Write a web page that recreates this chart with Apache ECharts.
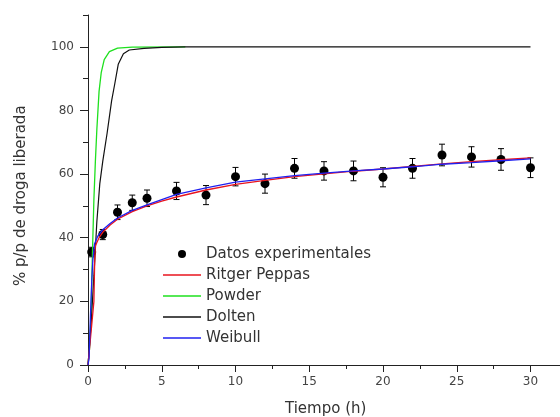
<!DOCTYPE html>
<html>
<head>
<meta charset="utf-8">
<script src="https://cdn.jsdelivr.net/npm/echarts@6/dist/echarts.min.js"></script>
<style>
html,body{margin:0;padding:0;background:#fff;}
#chart{width:560px;height:417px;}
</style>
</head>
<body>
<div id="chart"></div>
<script>
// ---- data ----
const times    = [0.25, 1, 2, 3, 4, 6, 8, 10, 12, 14, 16, 18, 20, 22, 24, 26, 28, 30];
const released = [35.5, 41, 48, 51, 52.4, 54.7, 53.4, 59.2, 57, 61.8, 61, 61, 59, 61.8, 66, 65.4, 64.6, 62];
const errors   = [1.5, 1.6, 2.3, 2.4, 2.6, 2.7, 3.0, 2.9, 3.0, 3.1, 2.9, 3.1, 3.0, 3.1, 3.4, 3.2, 3.4, 3.1];

const ritgerPeppas = [[0,0],[0.4,20],[0.45,32],[0.5,37.5],[0.75,40],[1,41.7],[1.5,44],[2,45.8],[3,48.2],[4,50],[5,51.5],[6,52.8],[8,55],[10,56.8],[12,58],[14,59.2],[16,60.1],[18,60.9],[20,61.6],[22,62.4],[24,63.2],[26,63.9],[28,64.5],[30,65.1]];
const powder = [[0,0],[0.1,5],[0.2,15],[0.3,35],[0.4,52],[0.5,64],[0.6,74],[0.75,86],[0.9,92],[1.1,96],[1.45,98.5],[2,99.6],[3,99.9],[6.6,100]];
const dolten = [[0,0],[0.2,12],[0.4,28],[0.6,45],[0.8,57],[1.0,64],[1.3,73],[1.6,83],[1.8,88],[2.05,94.5],[2.4,97.8],[2.8,99],[3.8,99.5],[5,99.8],[6.6,100],[30,100]];
const weibull = [[0,0],[0.07,2],[0.17,16],[0.26,27],[0.33,33],[0.44,38],[0.66,40.5],[1,42.5],[1.5,44.5],[2,46.2],[3,48.6],[4,50.3],[5,52],[6,53.6],[8,55.7],[10,57.5],[12,58.5],[14,59.5],[16,60.3],[18,61],[20,61.6],[22,62.3],[24,63.1],[26,63.6],[28,64.2],[30,64.8]];

const xMajor = [0, 5, 10, 15, 20, 25, 30];
const xMinor = [2.5, 7.5, 12.5, 17.5, 22.5, 27.5];
const yMajor = [0, 20, 40, 60, 80, 100];
const yMinor = [10, 30, 50, 70, 90, 110];

const names = ['Datos experimentales', 'Ritger Peppas', 'Powder', 'Dolten', 'Weibull'];

// ---- chart ----
const FONT = 'DejaVu Sans';
const axisColor = '#222';
const points = times.map((t, i) => [t, released[i]]);
const bars = times.map((t, i) => [t, released[i], errors[i]]);
const lineIcon = 'path://M0,0H38V1.3H0Z';

const chart = echarts.init(document.getElementById('chart'), null, {renderer: 'canvas'});

const baseX = {type: 'value', min: 0, max: 32, splitLine: {show: false}, position: 'bottom'};
const baseY = {type: 'value', min: 0, max: 110, splitLine: {show: false}, position: 'left'};

chart.setOption({
  animation: false,
  backgroundColor: '#fff',
  grid: {left: 88, right: 0, top: 15, bottom: 52, containLabel: false},
  xAxis: [
    Object.assign({}, baseX, {
      axisLine: {show: true, lineStyle: {color: axisColor, width: 1}},
      axisTick: {show: true, inside: false, length: 7, customValues: xMajor, lineStyle: {color: axisColor}},
      axisLabel: {show: true, customValues: xMajor, margin: 11, color: '#444', fontFamily: FONT, fontSize: 12}
    }),
    Object.assign({}, baseX, {
      axisLine: {show: false},
      axisTick: {show: true, inside: false, length: 4, customValues: xMinor, lineStyle: {color: axisColor}},
      axisLabel: {show: false}
    })
  ],
  yAxis: [
    Object.assign({}, baseY, {
      axisLine: {show: true, lineStyle: {color: axisColor, width: 1}},
      axisTick: {show: true, inside: false, length: 8, customValues: yMajor, lineStyle: {color: axisColor}},
      axisLabel: {show: true, customValues: yMajor, margin: 14, color: '#444', fontFamily: FONT, fontSize: 12}
    }),
    Object.assign({}, baseY, {
      axisLine: {show: false},
      axisTick: {show: true, inside: false, length: 5, customValues: yMinor, lineStyle: {color: axisColor}},
      axisLabel: {show: false}
    })
  ],
  legend: {
    orient: 'vertical',
    left: 163,
    top: 246.5,
    padding: 0,
    itemWidth: 38,
    itemHeight: 10,
    itemGap: 6,
    data: [
      {name: names[0]},
      {name: names[1], icon: lineIcon},
      {name: names[2], icon: lineIcon},
      {name: names[3], icon: lineIcon},
      {name: names[4], icon: lineIcon}
    ],
    textStyle: {fontFamily: FONT, fontSize: 15, color: '#333', lineHeight: 15}
  },
  graphic: [
    {type: 'text', left: 285, top: 402, style: {text: 'Tiempo (h)', fontFamily: FONT, fontSize: 15, fill: '#333'}},
    {type: 'text', x: 14, y: 286, rotation: Math.PI / 2, style: {text: '% p/p de droga liberada', fontFamily: FONT, fontSize: 15, fill: '#333'}}
  ],
  series: [
    {
      type: 'custom',
      name: 'errbars',
      xAxisIndex: 0, yAxisIndex: 0,
      data: bars,
      z: 2,
      silent: true,
      renderItem: function (params, api) {
        const x = api.value(0), y = api.value(1), e = api.value(2);
        const top = api.coord([x, y + e]);
        const bot = api.coord([x, y - e]);
        const w = 3;
        const st = {stroke: '#000', lineWidth: 1};
        return {
          type: 'group',
          children: [
            {type: 'line', shape: {x1: top[0], y1: top[1], x2: bot[0], y2: bot[1]}, style: st},
            {type: 'line', shape: {x1: top[0] - w, y1: top[1], x2: top[0] + w, y2: top[1]}, style: st},
            {type: 'line', shape: {x1: bot[0] - w, y1: bot[1], x2: bot[0] + w, y2: bot[1]}, style: st}
          ]
        };
      }
    },
    {
      type: 'line', name: names[0], data: points, z: 3,
      symbol: 'circle', symbolSize: 9, showSymbol: true,
      itemStyle: {color: '#000'},
      lineStyle: {width: 0, opacity: 0}
    },
    {
      type: 'line', name: names[2], data: powder, z: 4, symbol: 'none',
      itemStyle: {color: '#1ee01e'}, lineStyle: {color: '#1ee01e', width: 1.3}
    },
    {
      type: 'line', name: names[3], data: dolten, z: 4, symbol: 'none',
      itemStyle: {color: '#111'}, lineStyle: {color: '#111', width: 1.2}
    },
    {
      type: 'line', name: names[1], data: ritgerPeppas, z: 5, symbol: 'none',
      itemStyle: {color: '#e8141e'}, lineStyle: {color: '#e8141e', width: 1.3}
    },
    {
      type: 'line', name: names[4], data: weibull, z: 6, symbol: 'none',
      itemStyle: {color: '#2020f0'}, lineStyle: {color: '#2020f0', width: 1.3}
    }
  ]
});
</script>
</body>
</html>
